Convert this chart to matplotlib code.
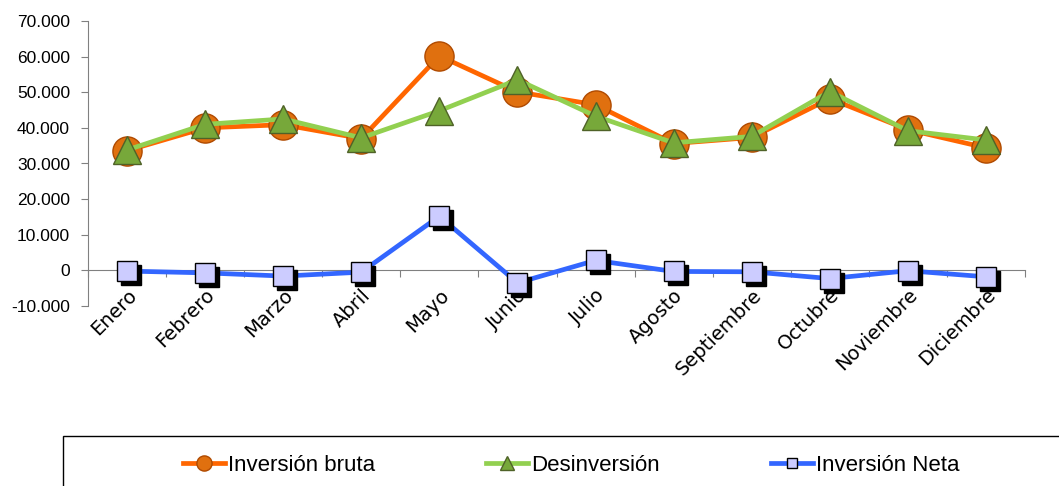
import matplotlib
matplotlib.use("Agg")
import matplotlib.pyplot as plt
import matplotlib.ticker as mticker
import matplotlib.transforms as mtransforms
from matplotlib.patches import Rectangle
import numpy as np

meses = ["Enero", "Febrero", "Marzo", "Abril", "Mayo", "Junio", "Julio",
         "Agosto", "Septiembre", "Octubre", "Noviembre", "Diciembre"]
inversion_bruta = [33600, 40000, 40900, 37000, 60200, 50100, 46500,
                   35600, 37300, 48200, 39500, 34400]
desinversion = [33800, 41000, 42500, 37200, 44800, 53500, 43300,
                35800, 37600, 50200, 39200, 36600]
inversion_neta = [-200, -700, -1600, -500, 15200, -3500, 2800,
                  -300, -400, -2300, -100, -1800]

fig = plt.figure(figsize=(10.59, 4.86), dpi=100)
ax = fig.add_axes([88 / 1059, 1 - 306 / 486, (1025 - 88) / 1059, (306 - 21) / 486])

x = np.arange(len(meses)) + 0.5

# lines
l1, = ax.plot(x, inversion_bruta, color="#FF6600", lw=3.4, zorder=3,
              marker="o", markersize=21, markerfacecolor="#E0700F",
              markeredgecolor="#B04A00", markeredgewidth=1.0)
l2, = ax.plot(x, desinversion, color="#92D050", lw=3.4, zorder=4,
              marker="^", markersize=20, markerfacecolor="#77A83A",
              markeredgecolor="#4F6228", markeredgewidth=1.0)

# net line with shadowed squares
ax.plot(x, inversion_neta, color="#3366FF", lw=3.4, zorder=5)
shadow = mtransforms.offset_copy(ax.transData, fig=fig, x=4, y=-4, units="dots")
ax.plot(x, inversion_neta, ls="none", marker="s", markersize=14,
        color="black", transform=shadow, zorder=6)
ax.plot(x, inversion_neta, ls="none", marker="s", markersize=14,
        markerfacecolor="#CCCCFF", markeredgecolor="black",
        markeredgewidth=1.0, zorder=7)
l3, = ax.plot([], [], color="#3366FF", lw=3.4, marker="s", markersize=14,
              markerfacecolor="#CCCCFF", markeredgecolor="black",
              markeredgewidth=1.0)

ax.set_xlim(0, len(meses))
ax.set_ylim(-10000, 70000)

for s in ["top", "right"]:
    ax.spines[s].set_visible(False)
ax.spines["left"].set_color("#808080")
ax.spines["bottom"].set_color("#808080")
ax.spines["bottom"].set_position(("data", 0))

ax.yaxis.set_major_locator(mticker.MultipleLocator(10000))
ax.yaxis.set_major_formatter(mticker.FuncFormatter(
    lambda v, p: f"{int(v):,}".replace(",", ".")))
ax.tick_params(axis="y", direction="out", length=5, color="#808080",
               labelsize=12.5, pad=8)
for lab in ax.get_yticklabels():
    lab.set_family("Liberation Sans")

ax.set_xticks(np.arange(0, len(meses) + 1))
ax.set_xticklabels([])
ax.tick_params(axis="x", which="major", direction="out", length=5, color="#808080")

# month labels, rotated, anchored just under the zero line
lab_off = mtransforms.offset_copy(ax.transData, fig=fig, x=0, y=-15, units="dots")
for xi, mes in zip(x, meses):
    ax.text(xi, 0, mes, transform=lab_off, rotation=45, ha="right", va="top",
            rotation_mode="anchor", fontsize=14, family="DejaVu Sans",
            clip_on=False)

# legend box
fig.add_artist(Rectangle((63 / 1059, -0.1), 1.0, 0.1 + 1 - 436 / 486,
                         transform=fig.transFigure, fill=False,
                         edgecolor="black", lw=1.0, clip_on=False))
fig.legend([l1, l2, l3], ["Inversión bruta", "Desinversión", "Inversión Neta"],
           loc="center", bbox_to_anchor=(571 / 1059, 1 - 465 / 486),
           ncol=3, frameon=False, handlelength=1.9, handletextpad=0.12,
           columnspacing=5.0, markerscale=0.52,
           prop={"family": "Liberation Sans", "size": 16})

fig.savefig("out.png", dpi=100)
